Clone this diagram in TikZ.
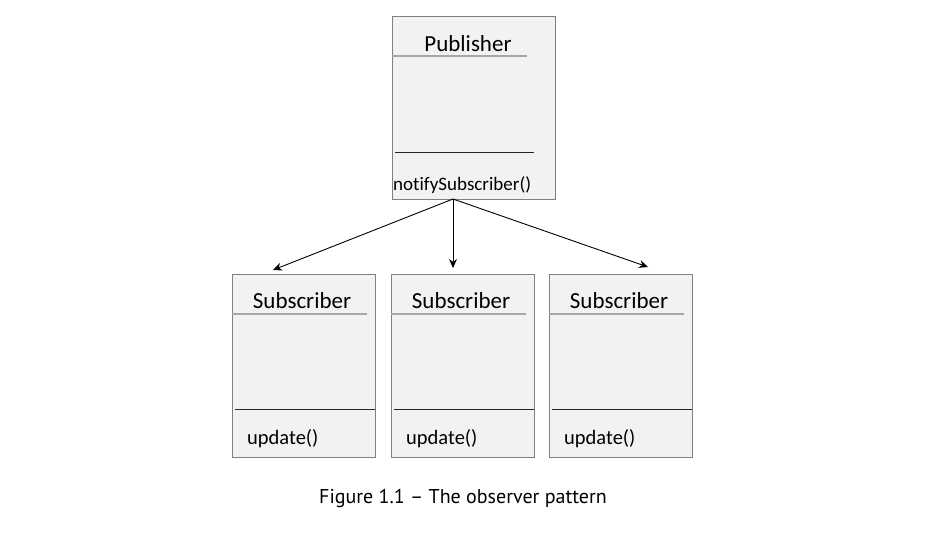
\documentclass[tikz,border=0pt]{standalone}
\usepackage{fontspec}
\setmainfont{Carlito}[Ligatures={NoCommon}]
\newfontfamily\capfont{PT Sans}
\usetikzlibrary{arrows.meta}
\definecolor{boxfill}{HTML}{F2F2F2}
\definecolor{boxline}{HTML}{808080}
\definecolor{divgray}{HTML}{A6A6A6}
\tikzset{
  umlbox/.style={draw=boxline, fill=boxfill, line width=0.9pt, minimum width=143pt, minimum height=183pt, inner sep=0pt},
  titletext/.style={font=\fontsize{23}{27}\selectfont, inner sep=0pt},
  methtext/.style={font=\fontsize{20.5}{24}\selectfont, inner sep=0pt, anchor=west},
  topdiv/.style={draw=divgray, line width=1.2pt},
  botdiv/.style={draw=black!85, line width=1pt},
  conn/.style={draw=black, line width=0.9pt, -{Stealth[length=9pt,width=8pt]}}
}
\begin{document}
\begin{tikzpicture}[x=1pt,y=-1pt]
\useasboundingbox (0,0) rectangle (929,543);
% Publisher
\node[umlbox, minimum width=163pt, anchor=north west] (pub) at (392,16) {};
\node[titletext] (pubt) at (468,44) {Publisher};
\coordinate (p1) at (392,56); \coordinate (p2) at (527,56);
\draw[topdiv] (p1) -- (p2);
\coordinate (p3) at (395,152); \coordinate (p4) at (534,152);
\draw[botdiv] (p3) -- (p4);
\node[methtext, font=\fontsize{19}{23}\selectfont] (pubm) at (393,185) {notifySubscriber()};
% Subscribers
\foreach \n/\x in {s1/232, s2/391, s3/549}{
  \node[umlbox, anchor=north west] (\n) at (\x,274) {};
  \node[titletext] (\n t) at (\x+70,301) {Subscriber};
  \coordinate (\n a) at (\x,314); \coordinate (\n b) at (\x+135,314);
  \draw[topdiv] (\n a) -- (\n b);
  \coordinate (\n c) at (\x+3,409); \coordinate (\n d) at (\x+143,409);
  \draw[botdiv] (\n c) -- (\n d);
  \node[methtext] (\n m) at (\x+15,439) {update()};
}
% connectors
\coordinate (src) at (453,199);
\coordinate (e1) at (273,270);
\coordinate (e2) at (453,268);
\coordinate (e3) at (648,267);
\draw[conn] (src) -- (e1);
\draw[conn] (src) -- (e2);
\draw[conn] (src) -- (e3);
% caption
\node[font=\capfont\fontsize{20}{23}\selectfont, inner sep=0pt] (cap) at (463,498) {Figure 1.1 – The observer pattern};
\end{tikzpicture}
\end{document}
